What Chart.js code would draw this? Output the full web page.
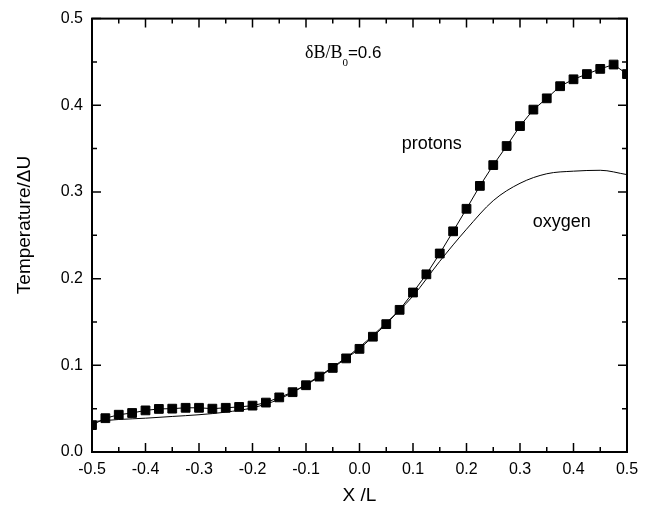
<!DOCTYPE html>
<html>
<head>
<meta charset="utf-8">
<script src="https://cdn.jsdelivr.net/npm/chart.js@4"></script>
<style>
  html, body { margin: 0; padding: 0; background: #fff; }
  #wrap { width: 647px; height: 510px; }
</style>
</head>
<body>
<div id="wrap"><canvas id="chart"></canvas></div>
<script>
// Data
const protonX = [-0.5, -0.475, -0.45, -0.425, -0.4, -0.375, -0.35, -0.325, -0.3, -0.275,
  -0.25, -0.225, -0.2, -0.175, -0.15, -0.125, -0.1, -0.075, -0.05, -0.025,
  0, 0.025, 0.05, 0.075, 0.1, 0.125, 0.15, 0.175, 0.2, 0.225,
  0.25, 0.275, 0.3, 0.325, 0.35, 0.375, 0.4, 0.425, 0.45, 0.475, 0.5];
const protonT = [0.031, 0.039, 0.043, 0.045, 0.048, 0.0497, 0.050, 0.051, 0.051, 0.050,
  0.051, 0.052, 0.0535, 0.057, 0.063, 0.069, 0.077, 0.087, 0.097, 0.108,
  0.119, 0.133, 0.1475, 0.164, 0.184, 0.205, 0.229, 0.2546, 0.2806, 0.307,
  0.331, 0.353, 0.376, 0.395, 0.408, 0.422, 0.430, 0.436, 0.442, 0.447, 0.436];

const oxygenX = [-0.5, -0.45, -0.4, -0.35, -0.3, -0.25, -0.2, -0.15, -0.1, -0.05,
  0, 0.05, 0.1, 0.15, 0.2, 0.25, 0.3, 0.35, 0.4, 0.45, 0.5];
const oxygenT = [0.035, 0.0375, 0.039, 0.041, 0.043, 0.046, 0.051, 0.061, 0.078, 0.098,
  0.121, 0.149, 0.180, 0.220, 0.257, 0.290, 0.310, 0.321, 0.324, 0.325, 0.320];

const xTicks = [-0.5, -0.4, -0.3, -0.2, -0.1, 0, 0.1, 0.2, 0.3, 0.4, 0.5];
const yTicks = [0, 0.1, 0.2, 0.3, 0.4, 0.5];

const toPoints = (xs, ys) => xs.map((x, i) => ({ x: x, y: ys[i] }));
const fmt = (v) => (Math.abs(v) < 1e-9 ? "0.0" : v.toFixed(1));

// Frame, inward ticks, labels
const framePlugin = {
  id: "frame",
  afterDraw(chart) {
    const { ctx, chartArea: a, scales } = chart;
    const sx = scales.x, sy = scales.y;
    ctx.save();
    ctx.strokeStyle = "#000";
    ctx.lineWidth = 1.5;
    ctx.beginPath();
    const tick = (vals, len) => {
      vals.forEach((v) => {
        const px = sx.getPixelForValue(v);
        ctx.moveTo(px, a.bottom); ctx.lineTo(px, a.bottom - len);
        ctx.moveTo(px, a.top); ctx.lineTo(px, a.top + len);
      });
    };
    const tickY = (vals, len) => {
      vals.forEach((v) => {
        const py = sy.getPixelForValue(v);
        ctx.moveTo(a.left, py); ctx.lineTo(a.left + len, py);
        ctx.moveTo(a.right, py); ctx.lineTo(a.right - len, py);
      });
    };
    tick(xTicks, 9);
    tick(xTicks.slice(1).map((v, i) => (v + xTicks[i]) / 2), 5);
    tickY(yTicks, 9);
    tickY(yTicks.slice(1).map((v, i) => (v + yTicks[i]) / 2), 5);
    ctx.stroke();
    ctx.lineWidth = 2;
    ctx.strokeRect(a.left, a.top, a.right - a.left, a.bottom - a.top);

    // axis titles
    ctx.fillStyle = "#000";
    ctx.textAlign = "center";
    ctx.textBaseline = "middle";
    ctx.font = '19px "Liberation Sans", Arial, sans-serif';
    ctx.fillText("X /L", (a.left + a.right) / 2, 496);
    ctx.save();
    ctx.translate(25, 225);
    ctx.rotate(-Math.PI / 2);
    ctx.font = '19px "Liberation Sans", Arial, sans-serif';
    ctx.fillText("Temperature/\u0394U", 0, 0);
    ctx.restore();

    // annotations
    ctx.textAlign = "left";
    ctx.textBaseline = "alphabetic";
    let tx = sx.getPixelForValue(-0.102);
    const ty = sy.getPixelForValue(0.454);
    ctx.font = '18px "Liberation Serif", "Times New Roman", serif';
    ctx.fillText("\u03B4B/B", tx, ty);
    tx += ctx.measureText("\u03B4B/B").width;
    ctx.font = '11px "Liberation Serif", "Times New Roman", serif';
    ctx.fillText("0", tx, ty + 8);
    tx += ctx.measureText("0").width;
    ctx.font = '17px "Liberation Sans", Arial, sans-serif';
    ctx.fillText("=0.6", tx, ty);

    ctx.font = '18px "Liberation Sans", Arial, sans-serif';
    ctx.fillText("protons", sx.getPixelForValue(0.079), sy.getPixelForValue(0.35));
    ctx.fillText("oxygen", sx.getPixelForValue(0.3237), sy.getPixelForValue(0.2595));
    ctx.restore();
  },
};

new Chart(document.getElementById("chart"), {
  type: "scatter",
  data: {
    datasets: [
      {
        label: "oxygen",
        data: toPoints(oxygenX, oxygenT),
        showLine: true,
        borderColor: "#000",
        borderWidth: 1,
        pointRadius: 0,
        cubicInterpolationMode: "monotone",
        clip: 0,
      },
      {
        label: "protons",
        data: toPoints(protonX, protonT),
        showLine: true,
        borderColor: "#000",
        borderWidth: 1,
        pointStyle: "rect",
        pointRadius: 6.2,
        pointBorderWidth: 1,
        pointBackgroundColor: "#000",
        pointBorderColor: "#000",
        clip: 0,
      },
    ],
  },
  options: {
    responsive: true,
    maintainAspectRatio: false,
    animation: false,
    layout: { padding: { top: 16, right: 20, left: 0, bottom: 0 } },
    plugins: { legend: { display: false }, tooltip: { enabled: false } },
    scales: {
      x: {
        type: "linear",
        min: -0.5,
        max: 0.5,
        grid: { display: false, drawTicks: false },
        border: { display: false },
        ticks: {
          stepSize: 0.1,
          padding: 8,
          color: "#000",
          font: { family: '"Liberation Sans", Arial, sans-serif', size: 16 },
          callback: (v) => fmt(v),
        },
        afterFit: (s) => { s.height = 58; },
      },
      y: {
        min: 0,
        max: 0.5,
        grid: { display: false, drawTicks: false },
        border: { display: false },
        ticks: {
          stepSize: 0.1,
          padding: 9,
          color: "#000",
          font: { family: '"Liberation Sans", Arial, sans-serif', size: 16 },
          callback: (v) => fmt(v),
        },
        afterFit: (s) => { s.width = 92; },
      },
    },
  },
  plugins: [framePlugin],
});
</script>
</body>
</html>
